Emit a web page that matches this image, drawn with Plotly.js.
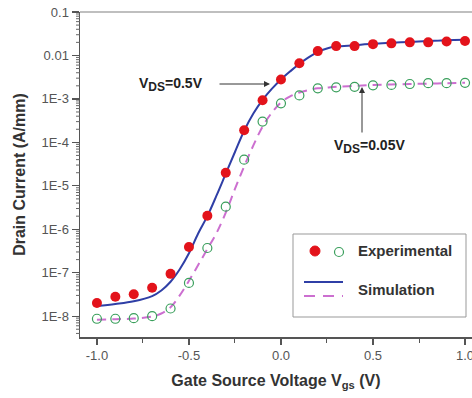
<!DOCTYPE html>
<html>
<head>
<meta charset="utf-8">
<script src="https://cdn.plot.ly/plotly-3.0.1.min.js"></script>
<style>html,body{margin:0;padding:0;background:#fff}#chart{width:472px;height:398px}</style>
</head>
<body>
<div id="chart"></div>
<script>
// Experimental data (V_gs step 0.1 V)
const vgsExp = [-1.0,-0.9,-0.8,-0.7,-0.6,-0.5,-0.4,-0.3,-0.2,-0.1,0.0,0.1,0.2,0.3,0.4,0.5,0.6,0.7,0.8,0.9,1.0];
const expVds05 = [2.0e-8,2.8e-8,3.2e-8,4.5e-8,9.4e-8,3.9e-7,2.05e-6,2.0e-5,1.9e-4,9.3e-4,2.8e-3,6.6e-3,1.26e-2,1.64e-2,1.64e-2,1.82e-2,1.9e-2,2.0e-2,2.0e-2,2.1e-2,2.15e-2];
const expVds005 = [8.7e-9,8.7e-9,9.0e-9,1.0e-8,1.5e-8,5.8e-8,3.7e-7,3.3e-6,4.0e-5,3.0e-4,7.9e-4,1.2e-3,1.75e-3,1.85e-3,1.9e-3,2.05e-3,2.1e-3,2.2e-3,2.3e-3,2.3e-3,2.35e-3];

// Simulation curves
const vgsSim = [-1.0,-0.9,-0.8,-0.7,-0.65,-0.6,-0.55,-0.5,-0.45,-0.4,-0.35,-0.3,-0.25,-0.2,-0.15,-0.1,-0.05,0.0,0.05,0.1,0.15,0.2,0.25,0.3,0.4,0.5,0.6,0.7,0.8,0.9,1.0];
const simVds05 = [1.7e-8,1.9e-8,2.2e-8,2.9e-8,3.9e-8,6.2e-8,1.2e-7,2.8e-7,8.0e-7,2.0e-6,6.0e-6,1.9e-5,6.0e-5,1.85e-4,4.6e-4,9.5e-4,1.7e-3,2.8e-3,4.3e-3,6.4e-3,9.0e-3,1.2e-2,1.45e-2,1.6e-2,1.72e-2,1.85e-2,1.95e-2,2.05e-2,2.15e-2,2.25e-2,2.3e-2];
const simVds005 = [8.3e-9,8.5e-9,8.8e-9,9.8e-9,1.15e-8,1.6e-8,3.0e-8,6.5e-8,1.5e-7,3.5e-7,8.2e-7,2.4e-6,8.5e-6,2.8e-5,8.5e-5,2.3e-4,4.8e-4,8.3e-4,1.15e-3,1.4e-3,1.6e-3,1.75e-3,1.82e-3,1.9e-3,2.0e-3,2.1e-3,2.15e-3,2.2e-3,2.25e-3,2.3e-3,2.35e-3];

const yTickVals = [1e-8,1e-7,1e-6,1e-5,1e-4,1e-3,1e-2,1e-1];
const yTickText = ['1E-8','1E-7','1E-6','1E-5','1E-4','1E-3','0.01','0.1'];
const xTickVals = [-1.0,-0.5,0.0,0.5,1.0];
const xTickText = ['-1.0','-0.5','0.0','0.5','1.0'];

// minor tick positions on the log axis (2..9 within each decade)
const yMinorVals = [];
for (let e = -9; e <= -2; e++) for (let m = 2; m <= 9; m++) {
  const v = m * Math.pow(10, e);
  if (v > 3.4e-9 && v < 0.1) yMinorVals.push(v);
}

const RED = '#e3131b', GREEN = '#3a9f5c', BLUE = '#2f3fa6', PINK = '#cc6fd0';
const FAM = 'Liberation Sans, Arial, sans-serif';

const traces = [
  {x: vgsSim, y: simVds005, mode:'lines', line:{color:PINK, width:2, dash:'9px,6px', shape:'spline'}, showlegend:false, hoverinfo:'skip'},
  {x: vgsSim, y: simVds05, mode:'lines', line:{color:BLUE, width:2, shape:'spline'}, showlegend:false, hoverinfo:'skip'},
  {x: vgsExp, y: expVds005, mode:'markers', marker:{symbol:'circle-open', size:9, color:GREEN, line:{width:1.2, color:GREEN}}, showlegend:false},
  {x: vgsExp, y: expVds05, mode:'markers', marker:{symbol:'circle', size:10, color:RED}, showlegend:false}
];

const tickFont = {family:FAM, size:13, color:'#555'};
const titleFont = {family:FAM, size:16, color:'#333', weight:'bold'};
const legFont = {family:FAM, size:15, color:'#333', weight:'bold'};

function px2paperX(px){ return (px-80)/392; }
function px2paperY(py){ return (337-py)/325; }

const shapes = [
  {type:'line', xref:'paper', yref:'paper', x0:0, x1:1, y0:1, y1:1, line:{color:'#aaa', width:1.5}},
  {type:'rect', xref:'paper', yref:'paper', x0:px2paperX(293), x1:px2paperX(466), y0:px2paperY(317), y1:px2paperY(234), line:{color:'#999', width:1}, fillcolor:'rgba(0,0,0,0)'},
  {type:'circle', xref:'paper', yref:'paper', xsizemode:'pixel', ysizemode:'pixel', xanchor:px2paperX(315), yanchor:px2paperY(251), x0:-5, x1:5, y0:-5, y1:5, fillcolor:RED, line:{color:RED, width:1}},
  {type:'circle', xref:'paper', yref:'paper', xsizemode:'pixel', ysizemode:'pixel', xanchor:px2paperX(339), yanchor:px2paperY(252), x0:-4.5, x1:4.5, y0:-4.5, y1:4.5, fillcolor:'#fff', line:{color:GREEN, width:1.2}},
  {type:'line', xref:'paper', yref:'paper', x0:px2paperX(304), x1:px2paperX(343), y0:px2paperY(282), y1:px2paperY(282), line:{color:BLUE, width:2}},
  {type:'line', xref:'paper', yref:'paper', x0:px2paperX(304), x1:px2paperX(343), y0:px2paperY(296), y1:px2paperY(296), line:{color:PINK, width:2, dash:'11px,8px'}}
];
// minor y ticks drawn as short tick marks at the axis
yMinorVals.forEach(v => shapes.push({type:'line', xref:'paper', yref:'y', xsizemode:'pixel', xanchor:0, x0:-4, x1:0, y0:v, y1:v, line:{color:'#666', width:1}}));

const layout = {
  width:472, height:398,
  margin:{l:80, r:0, t:12, b:61},
  paper_bgcolor:'#fff', plot_bgcolor:'#fff',
  showlegend:false,
  xaxis:{
    range:[-1.092, 1.038], showgrid:false, zeroline:false,
    showline:true, linecolor:'#555', linewidth:1.5,
    ticks:'outside', ticklen:6, tickwidth:1.2, tickcolor:'#555',
    tickvals:xTickVals, ticktext:xTickText, tickfont:tickFont, ticklabeloverflow:'allow',
    minor:{ticks:'outside', ticklen:4, tickwidth:1, tickcolor:'#555', dtick:0.25, tick0:-1},
    title:{text:'<b>Gate Source Voltage V<sub>gs</sub> (V)</b>', font:titleFont, standoff:12}
  },
  yaxis:{
    type:'log', range:[-8.48, -1], showgrid:false, zeroline:false,
    showline:true, linecolor:'#555', linewidth:1.5,
    ticks:'outside', ticklen:7, tickwidth:1.2, tickcolor:'#555',
    tickvals:yTickVals, ticktext:yTickText, tickfont:tickFont,
    title:{text:'<b>Drain Current (A/mm)</b>', font:titleFont, standoff:12}
  },
  shapes: shapes,
  annotations:[
    {xref:'paper', yref:'paper', x:px2paperX(356), y:px2paperY(251), xanchor:'left', yanchor:'middle', text:'<b>Experimental</b>', showarrow:false, font:legFont},
    {xref:'paper', yref:'paper', x:px2paperX(356), y:px2paperY(289), xanchor:'left', yanchor:'middle', text:'<b>Simulation</b>', showarrow:false, font:legFont},
    {xref:'paper', yref:'paper', x:px2paperX(171), y:px2paperY(84), xanchor:'center', yanchor:'middle', text:'<b>V<sub><span style="font-size:12px">DS</span></sub>=0.5V</b>', showarrow:false, font:{family:FAM, size:14, color:'#222'}},
    {xref:'paper', yref:'paper', x:px2paperX(369), y:px2paperY(146), xanchor:'center', yanchor:'middle', text:'<b>V<sub><span style="font-size:12px">DS</span></sub>=0.05V</b>', showarrow:false, font:{family:FAM, size:14, color:'#222'}},
    {xref:'paper', yref:'paper', x:px2paperX(270), y:px2paperY(84), text:'', showarrow:true, ax:-52, ay:0, arrowhead:2, arrowsize:1.2, arrowwidth:1, arrowcolor:'#333'},
    {xref:'paper', yref:'paper', x:px2paperX(362), y:px2paperY(87), text:'', showarrow:true, ax:0, ay:47, arrowhead:2, arrowsize:1.2, arrowwidth:1, arrowcolor:'#333'}
  ]
};

Plotly.newPlot('chart', traces, layout, {displayModeBar:false, staticPlot:true});
</script>
</body>
</html>
